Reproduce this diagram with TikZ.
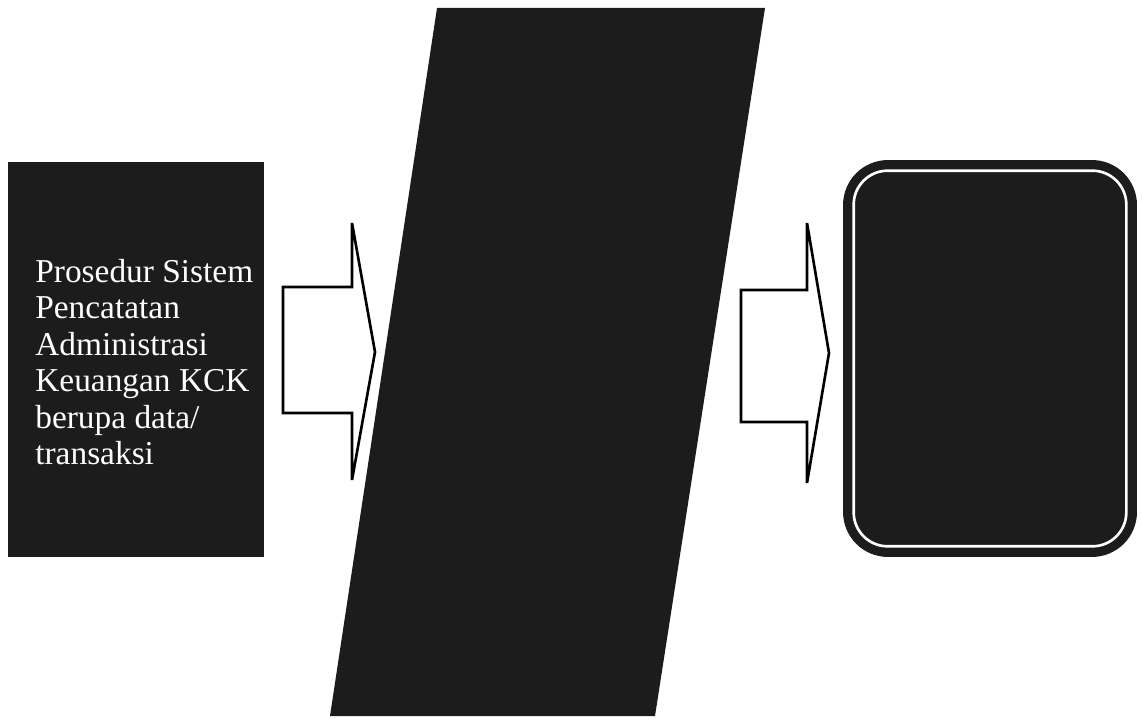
\documentclass[tikz,border=0pt]{standalone}
\usepackage{fontspec}
\setmainfont{Liberation Serif}
\usepackage{tikz}
\definecolor{InkDark}{HTML}{1C1C1C}

\tikzset{
  blockarrow/.style={draw=black, line width=1.5pt, fill=white, line join=miter},
  darkbox/.style={fill=InkDark, draw=none, inner sep=0pt}
}

\begin{document}
\begin{tikzpicture}[x=0.02cm,y=-0.02cm, every node/.style={font=\fontsize{19}{20.8}\selectfont}]
  \useasboundingbox (0,0) rectangle (1142,719);
  % input
  \node[darkbox, minimum width=5.12cm, minimum height=7.9cm] (input) at (136,359.5) {};
  \node[anchor=west, align=left, text=white, inner sep=0pt] (inputtext) at (35,362)
    {Prosedur Sistem\\Pencatatan\\Administrasi\\Keuangan KCK\\berupa data/\\transaksi};
  % process
  \fill[InkDark] (437,8) -- (765,8) -- (655,716) -- (330,716) -- cycle;
  % output
  \node[darkbox, rounded corners=0.9cm, minimum width=5.88cm, minimum height=7.94cm] (output) at (990,358.5) {};
  \draw[white, line width=1.5pt, rounded corners=0.68cm]
    ([shift={(11,11)}]output.north west) rectangle ([shift={(-11,-11)}]output.south east);
  % arrows
  \draw[blockarrow] (283,287) -- (352,287) -- (352,223) -- (375,352) -- (352,480) -- (352,413) -- (283,413) -- cycle;
  \draw[blockarrow] (741,290) -- (807,290) -- (807,223) -- (829,353) -- (807,483) -- (807,422) -- (741,422) -- cycle;
\end{tikzpicture}
\end{document}
